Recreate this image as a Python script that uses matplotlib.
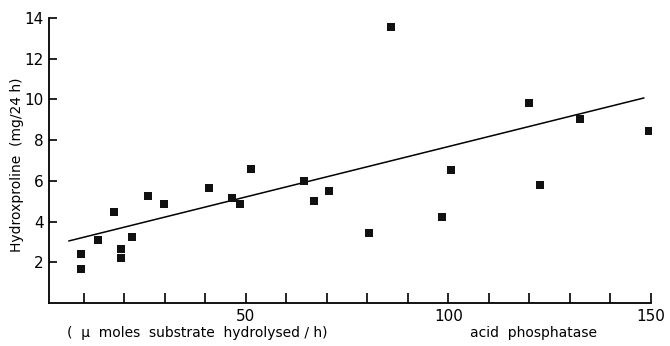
import matplotlib
matplotlib.use('Agg')
import matplotlib.pyplot as plt

# acid phosphatase (umol substrate hydrolysed/h) vs hydroxyproline (mg/24h)
acid_phosphatase = [9.3, 9.3, 13.5, 17.5, 19.2, 19.2, 21.8, 25.9, 29.8, 40.8,
                    46.5, 48.5, 51.3, 64.3, 66.8, 70.6, 80.3, 85.7, 98.4, 100.5,
                    120.0, 122.7, 132.5, 149.5]
hydroxyproline = [2.4, 1.67, 3.1, 4.45, 2.67, 2.23, 3.25, 5.26, 4.84, 5.64,
                  5.18, 4.84, 6.6, 5.99, 5.02, 5.5, 3.44, 13.55, 4.22, 6.54,
                  9.82, 5.8, 9.02, 8.46]

# regression line end points as drawn
fit_x = [6.3, 148.2]
fit_y = [3.05, 10.07]

x_ticks = list(range(10, 160, 10))
x_labels = ['50' if t == 50 else '100' if t == 100 else '150' if t == 150 else '' for t in x_ticks]
y_ticks = [2, 4, 6, 8, 10, 12, 14]

fig = plt.figure(figsize=(6.7, 3.46), dpi=100)
ax = fig.add_axes([49 / 670, 43 / 346, 602 / 670, 285 / 346])

ax.plot(fit_x, fit_y, color='black', lw=1.1)
ax.plot(acid_phosphatase, hydroxyproline, 's', color='#111111', markersize=5.3,
        markeredgewidth=0)

ax.set_xlim(1.36, 150)
ax.set_ylim(0, 14)
ax.set_xticks(x_ticks)
ax.set_xticklabels(x_labels)
ax.set_yticks(y_ticks)
ax.tick_params(axis='x', direction='in', length=7, width=1.2, pad=4, labelsize=11)
ax.tick_params(axis='y', direction='in', length=6, width=1.2, pad=4, labelsize=11)

for side in ['top', 'right']:
    ax.spines[side].set_visible(False)
for side in ['left', 'bottom']:
    ax.spines[side].set_linewidth(1.3)

fig.text(67 / 670, 0.038, '(  μ  moles  substrate  hydrolysed / h)', fontsize=10,
         ha='left', va='center')
fig.text(0.797, 0.038, 'acid  phosphatase', fontsize=10, ha='center', va='center')
fig.text(0.026, 0.523, 'Hydroxproline  (mg/24 h)', fontsize=10, rotation=90,
         ha='center', va='center')

plt.savefig('out.png', dpi=100)
